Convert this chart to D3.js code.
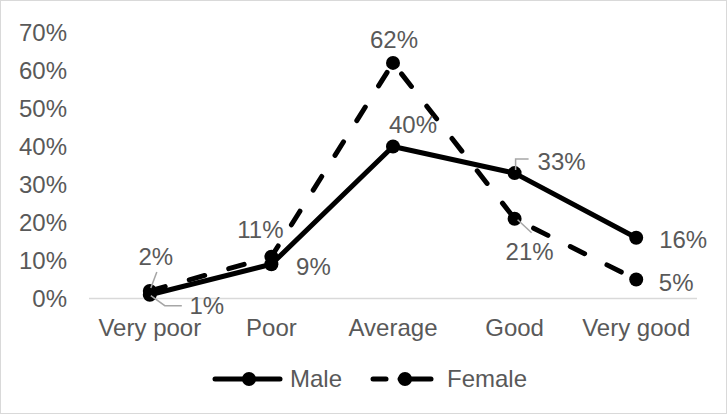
<!DOCTYPE html>
<html><head><meta charset="utf-8">
<script src="https://cdn.jsdelivr.net/npm/d3@7"></script>
<style>body{margin:0;background:#fff}svg{display:block}text{font-family:"Liberation Sans",Arial,sans-serif;fill:#595959}</style>
</head><body><svg id="c" width="727" height="414"></svg>
<script>
const categories = ["Very poor","Poor","Average","Good","Very good"];
const male = [1, 9, 40, 33, 16];
const female = [2, 11, 62, 21, 5];
const yTicks = [0,10,20,30,40,50,60,70];
const seriesNames = ["Male","Female"];

// label placement (offsets from point, px)
const maleLabelOff = [[57,11],[42,2],[20,-22],[47,-12],[47,2]];
const femaleLabelOff = [[6,-34],[-11,-27],[1,-23],[15,33],[40,3]];
const maleLeaders = {0:[[1,1],[15,11],[32,11]], 3:[[1,-3],[1,-14],[14,-14]]};
const femaleLeaders = {0:[[7,-19],[1,-3]], 3:[[3,1],[17,14]]};

const svg = d3.select("#c");
const W=727,H=414, FS=24;
svg.append("rect").attr("x",0.5).attr("y",0.5).attr("width",W-1).attr("height",H-1)
  .attr("fill","#fff").attr("stroke","#d9d9d9");

const x = d3.scaleBand().domain(categories).range([89,697]);
const y = d3.scaleLinear().domain([0,70]).range([298.5,32.5]);
const cx = c => x(c)+x.bandwidth()/2;

// baseline
svg.append("line").attr("x1",89).attr("x2",697).attr("y1",y(0)).attr("y2",y(0))
  .attr("stroke","#d9d9d9").attr("stroke-width",1.3);

// y axis labels
const yAxis = d3.axisLeft(y).tickValues(yTicks).tickFormat(d=>d+"%").tickSize(0).tickPadding(0);
const ya = svg.append("g").attr("transform","translate(67,0)").call(yAxis);
ya.select(".domain").remove();
ya.selectAll("text").attr("font-size",FS).attr("fill","#595959").attr("font-family","Liberation Sans, Arial, sans-serif").attr("dy","0.35em");

// x axis labels
const xAxis = d3.axisBottom(x).tickSize(0).tickPadding(0);
const xa = svg.append("g").attr("transform","translate(0,328)").call(xAxis);
xa.select(".domain").remove();
xa.selectAll("text").attr("font-size",FS).attr("fill","#595959").attr("font-family","Liberation Sans, Arial, sans-serif").attr("dy","0.35em");

const line = d3.line().x((d,i)=>cx(categories[i])).y(d=>y(d));

function drawSeries(vals, dashed){
  svg.append("path").datum(vals).attr("d",line).attr("fill","none")
    .attr("stroke","#000").attr("stroke-width",5)
    .attr("stroke-linecap", dashed?"round":"butt").attr("stroke-linejoin","round")
    .attr("stroke-dasharray", dashed?"16,25":null);
  svg.selectAll(null).data(vals).enter().append("circle")
    .attr("cx",(d,i)=>cx(categories[i])).attr("cy",d=>y(d)).attr("r",7).attr("fill","#000");
}
drawSeries(female,true);
drawSeries(male,false);

function drawLabels(vals, offs, leaders){
  Object.keys(leaders).forEach(k=>{
    const i=+k, px=cx(categories[i]), py=y(vals[i]);
    svg.append("path").attr("d", d3.line()(leaders[k].map(p=>[px+p[0],py+p[1]])))
      .attr("fill","none").attr("stroke","#a6a6a6").attr("stroke-width",1.5);
  });
  svg.selectAll(null).data(vals).enter().append("text")
    .attr("x",(d,i)=>cx(categories[i])+offs[i][0])
    .attr("y",(d,i)=>y(d)+offs[i][1])
    .attr("text-anchor","middle").attr("dy","0.35em").attr("font-size",FS)
    .text(d=>d+"%");
}
drawLabels(male, maleLabelOff, maleLeaders);
drawLabels(female, femaleLabelOff, femaleLeaders);

// legend
const lg = svg.append("g");
// Male
lg.append("line").attr("x1",215).attr("x2",280).attr("y1",379).attr("y2",379)
  .attr("stroke","#000").attr("stroke-width",5).attr("stroke-linecap","round");
lg.append("circle").attr("cx",249).attr("cy",379).attr("r",7).attr("fill","#000");
lg.append("text").attr("x",290).attr("y",379).attr("dy","0.35em").attr("font-size",FS).text(seriesNames[0]);
// Female
[[373,386],[400,431]].forEach(s=>{
  lg.append("line").attr("x1",s[0]).attr("x2",s[1]).attr("y1",379).attr("y2",379)
    .attr("stroke","#000").attr("stroke-width",5).attr("stroke-linecap","round");
});
lg.append("circle").attr("cx",405).attr("cy",379).attr("r",7).attr("fill","#000");
lg.append("text").attr("x",447).attr("y",379).attr("dy","0.35em").attr("font-size",FS).text(seriesNames[1]);
</script></body></html>
